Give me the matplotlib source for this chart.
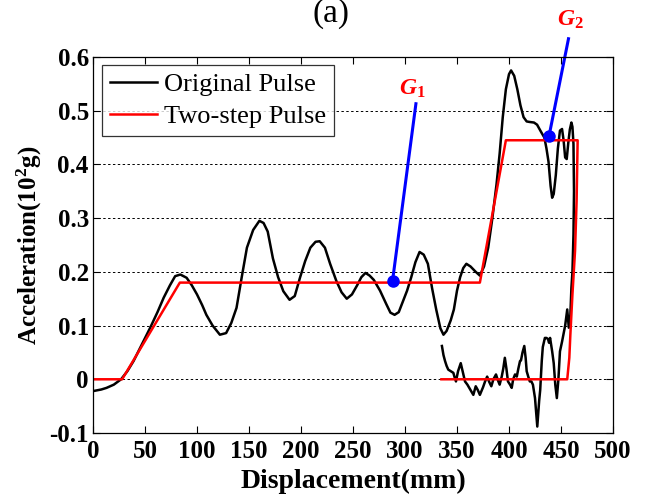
import matplotlib
matplotlib.use("Agg")
import matplotlib.pyplot as plt

# ---- data ----
orig_d = [0, 8, 13, 20, 27, 33, 39, 47, 55, 62, 68, 74, 79, 84, 90, 95, 100, 105, 109, 115,
          122, 128, 133, 138, 143, 148, 154, 160, 164, 168, 173, 178, 183, 189, 194, 199,
          204, 209, 214, 218, 223, 228, 234, 239, 244, 249, 254, 258, 262, 266, 270, 276,
          282, 286, 290, 294, 298, 302, 306, 310, 314, 318, 322, 326, 330, 334, 337, 340,
          344, 347, 350, 353, 356, 359, 363, 368, 372, 376, 380, 384, 388, 391, 394, 397,
          400, 402, 405, 408, 411, 414, 417, 420, 424, 427, 431, 434, 436, 438, 440, 441.5,
          443, 445, 447, 449, 451, 452.5, 454, 455.5, 457, 458.5, 460, 461, 462, 462.5, 462,
          461, 460, 459, 457.5, 456, 454, 451, 449, 447.5, 446, 444.5, 443, 441.5, 439.5,
          438.5, 437.5, 436, 434.5, 432.5, 431.5, 430, 429, 427.2, 426, 425, 423, 421.5, 420,
          418.5, 417, 416, 414.7, 413, 411.5, 410.6, 409, 407.5, 405.8, 404, 402.6, 401, 399,
          397.5, 396, 394.5, 393, 391, 389, 387.5, 385, 383, 381, 379, 377, 375, 372, 370,
          368, 365.7, 363, 360, 357.7, 356, 353.6, 351, 349, 347.5, 346.5, 344, 341.6, 340,
          338.5, 337, 335.5]
orig_a = [-0.022, -0.019, -0.016, -0.01, 0.0, 0.015, 0.034, 0.065, 0.096, 0.125, 0.152, 0.175,
          0.192, 0.195, 0.189, 0.175, 0.158, 0.138, 0.12, 0.1, 0.083, 0.086, 0.105, 0.133,
          0.19, 0.245, 0.278, 0.295, 0.291, 0.275, 0.225, 0.19, 0.164, 0.148, 0.155, 0.189,
          0.22, 0.245, 0.256, 0.257, 0.245, 0.215, 0.183, 0.162, 0.15, 0.158, 0.175, 0.19,
          0.198, 0.193, 0.185, 0.165, 0.14, 0.124, 0.12, 0.125, 0.145, 0.165, 0.19, 0.218,
          0.237, 0.232, 0.215, 0.17, 0.13, 0.095, 0.083, 0.09, 0.11, 0.13, 0.165, 0.19,
          0.207, 0.215, 0.21, 0.2, 0.193, 0.21, 0.245, 0.3, 0.363, 0.42, 0.488, 0.54, 0.568,
          0.575, 0.565, 0.54, 0.51, 0.488, 0.48, 0.479, 0.478, 0.474, 0.46, 0.45, 0.43,
          0.405, 0.36, 0.338, 0.345, 0.38, 0.43, 0.463, 0.466, 0.445, 0.413, 0.41, 0.44,
          0.465, 0.478, 0.47, 0.438, 0.35, 0.27, 0.2, 0.17, 0.12, 0.096, 0.13, 0.1, 0.07,
          0.052, 0.0, -0.035, -0.01, 0.03, 0.052, 0.077, 0.068, 0.075, 0.077, 0.077, 0.06,
          0.034, -0.02, -0.04, -0.088, -0.06, -0.035, -0.01, -0.004, -0.004, 0.005, 0.015,
          0.04, 0.062, 0.05, 0.035, 0.034, 0.02, 0.005, 0.009, 0.0, -0.016, -0.01, -0.004,
          0.02, 0.04, 0.02, 0.005, -0.01, 0.0, 0.009, 0.0, -0.013, -0.005, 0.005, -0.004,
          -0.015, -0.029, -0.02, -0.013, -0.029, -0.02, -0.01, -0.004, 0.01, 0.03, 0.015,
          -0.004, 0.005, 0.012, 0.015, 0.018, 0.025, 0.034, 0.045, 0.062]

step_d = [0, 28, 83.5, 372, 397, 466, 465, 463.5, 461, 459, 458, 456, 335]
step_a = [0, 0, 0.18, 0.18, 0.445, 0.445, 0.332, 0.239, 0.158, 0.083, 0.04, 0, 0]

g1_point = (288, 0.183)
g1_text = (307, 0.541)
g1_line_end = (310.5, 0.513)
g2_point = (438.5, 0.453)
g2_text = (459, 0.67)
g2_line_end = (457.2, 0.634)

xticks = [0, 50, 100, 150, 200, 250, 300, 350, 400, 450, 500]
yticks = [-0.1, 0, 0.1, 0.2, 0.3, 0.4, 0.5, 0.6]
ytick_labels = ["-0.1", "0", "0.1", "0.2", "0.3", "0.4", "0.5", "0.6"]

plt.rcParams['font.family'] = ['Liberation Serif', 'DejaVu Serif']
plt.rcParams['mathtext.fontset'] = 'custom'
plt.rcParams['mathtext.rm'] = 'Liberation Serif'
plt.rcParams['mathtext.it'] = 'Liberation Serif:italic'
plt.rcParams['mathtext.bf'] = 'Liberation Serif:bold'
plt.rcParams['mathtext.bfit'] = 'Liberation Serif:bold:italic'

fig = plt.figure(figsize=(6.47, 4.99), dpi=100)
ax = fig.add_axes([93 / 647, 1 - 433 / 499, (613 - 93) / 647, (433 - 57) / 499])

ax.plot(orig_d, orig_a, color='black', lw=1.8, label='Original Pulse')
ax.plot(step_d, step_a, color='red', lw=1.8, label='Two-step Pulse')

ax.set_xlim(0, 500)
ax.set_ylim(-0.1, 0.6)
ax.set_xticks(xticks)
ax.set_yticks(yticks)
ax.set_yticklabels(ytick_labels)
ax.yaxis.grid(True, linestyle=(0, (2.5, 2.5)), color='black', lw=0.7)
ax.tick_params(direction='in', top=True, right=True, length=5, width=0.8, pad=3,
               labelsize=18)
ax.tick_params(axis='x', pad=5)
for lab in ax.get_xticklabels() + ax.get_yticklabels():
    lab.set_fontweight('bold')
for s in ax.spines.values():
    s.set_linewidth(0.9)

ax.set_xlabel('Displacement(mm)', fontsize=20, fontweight='bold', labelpad=4)
ax.set_ylabel(r'Acceleration(10$^\mathbf{2}$g)', fontsize=18, fontweight='bold', labelpad=4)
fig.text(331 / 647, 1 - 14 / 499, '(a)', ha='center', va='center', fontsize=24)

leg = ax.legend(loc='upper left', bbox_to_anchor=(0.017, 0.979), fontsize=19,
                frameon=True, fancybox=False, edgecolor='black', handlelength=1.8,
                handletextpad=0.25, borderpad=0.3, labelspacing=0.33, borderaxespad=0)
leg.get_frame().set_linewidth(0.9)

for pt, end, tx, lab in [(g1_point, g1_line_end, g1_text, r'$\mathbfit{G}_\mathbf{1}$'),
                         (g2_point, g2_line_end, g2_text, r'$\mathbfit{G}_\mathbf{2}$')]:
    ax.plot([pt[0], end[0]], [pt[1], end[1]], color='blue', lw=2.2, clip_on=False)
    ax.plot([pt[0]], [pt[1]], 'o', color='blue', ms=8, clip_on=False)
    ax.text(tx[0], tx[1], lab, color='red', fontsize=17, ha='center', va='center',
            clip_on=False)

fig.savefig('out.png', dpi=100)
